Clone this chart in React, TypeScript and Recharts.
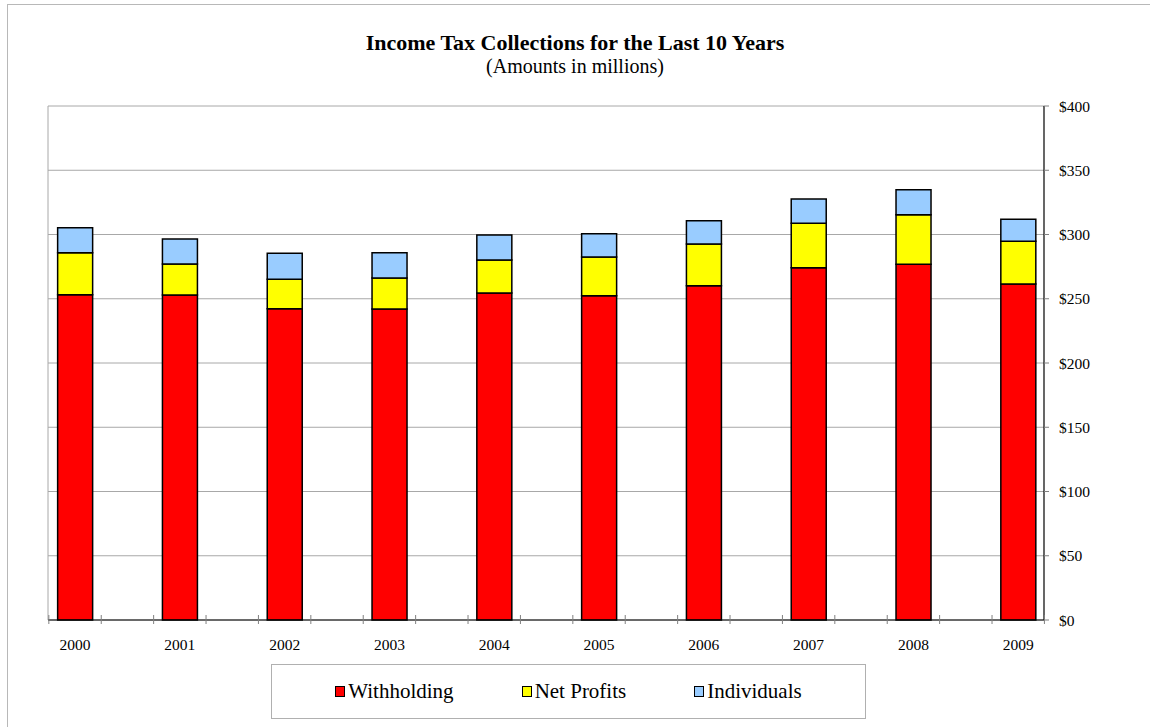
import { BarChart, Bar, XAxis, YAxis, CartesianGrid, ReferenceLine } from 'recharts';

const years = ['2000', '2001', '2002', '2003', '2004', '2005', '2006', '2007', '2008', '2009'];
const withholding = [253.2, 252.9, 242.3, 242.0, 254.5, 252.4, 260.2, 274.2, 276.8, 261.5];
const netProfits = [32.6, 24.1, 22.8, 24.1, 25.7, 30.1, 32.4, 34.5, 38.6, 33.2];
const individuals = [19.5, 19.5, 20.3, 19.7, 19.4, 18.1, 18.1, 18.9, 19.5, 17.1];
const yTicks = [0, 50, 100, 150, 200, 250, 300, 350, 400];

const series = [
  { key: 'withholding', name: 'Withholding', color: '#ff0000' },
  { key: 'netProfits', name: 'Net Profits', color: '#ffff00' },
  { key: 'individuals', name: 'Individuals', color: '#99ccff' },
];

const FONT = '"Liberation Serif", "Times New Roman", serif';

// bars sit a bit off the band centres in the original, so use a numeric x axis
const xDomain = [-0.258, 9.246];
const xTicks: number[] = [];
for (let i = -0.25; i <= 9.25; i += 0.5) xTicks.push(i);
years.forEach((_, i) => xTicks.push(i));

const data = years.map((y, i) => ({
  idx: i,
  year: y,
  withholding: withholding[i],
  netProfits: netProfits[i],
  individuals: individuals[i],
}));

function XTick(props: any) {
  const { x, y, payload } = props;
  const v = payload.value;
  if (Number.isInteger(v)) {
    return (
      <text x={x} y={y + 30} textAnchor="middle" fontSize={15.5} fontFamily={FONT} fill="#000">
        {years[v]}
      </text>
    );
  }
  return <line x1={x} x2={x} y1={y - 5} y2={y + 4} stroke="#808080" strokeWidth={1} />;
}

export default function App() {
  return (
    <div style={{ position: 'absolute', left: 0, top: 0, width: 1150, height: 727, background: '#fff', fontFamily: FONT, overflow: 'hidden' }}>
      <div style={{ position: 'absolute', left: 7, top: 4, width: 1150, height: 727, borderTop: '1px solid #b8b8b8', borderLeft: '1px solid #b8b8b8' }} />
      <div style={{ position: 'absolute', left: 0, width: 1150, top: 30, textAlign: 'center', fontSize: 22, fontWeight: 'bold', color: '#000' }}>
        Income Tax Collections for the Last 10 Years
      </div>
      <div style={{ position: 'absolute', left: 0, width: 1150, top: 55, textAlign: 'center', fontSize: 20, color: '#000' }}>
        (Amounts in millions)
      </div>
      <div style={{ position: 'absolute', left: 0, top: 0 }}>
        <BarChart width={1150} height={727} data={data} margin={{ top: 106, right: 0, left: 48, bottom: 67 }}>
          <CartesianGrid horizontal vertical={false} stroke="#a8a8a8" />
          <ReferenceLine x={xDomain[0]} stroke="#a8a8a8" />
          <XAxis
            dataKey="idx"
            type="number"
            domain={xDomain}
            allowDataOverflow
            ticks={xTicks}
            interval={0}
            height={40}
            tickSize={0}
            tickMargin={0}
            tickLine={false}
            axisLine={{ stroke: '#000', strokeWidth: 1.2 }}
            tick={<XTick />}
          />
          <YAxis
            orientation="right"
            width={106}
            domain={[0, 400]}
            ticks={yTicks}
            interval={0}
            tickSize={5}
            tickMargin={10}
            tickLine={{ stroke: '#808080' }}
            axisLine={{ stroke: '#000', strokeWidth: 1.2 }}
            tickFormatter={(v: number) => `$${v}`}
            tick={{ fontSize: 15.5, fontFamily: FONT, fill: '#000' }}
          />
          {series.map((s) => (
            <Bar
              key={s.key}
              dataKey={s.key}
              name={s.name}
              stackId="a"
              fill={s.color}
              stroke="#000"
              strokeWidth={1.5}
              barSize={35}
              isAnimationActive={false}
            />
          ))}
        </BarChart>
      </div>
      <div
        style={{
          position: 'absolute',
          left: 271,
          top: 664,
          width: 595,
          height: 55,
          boxSizing: 'border-box',
          border: '1px solid #b0b0b0',
          display: 'flex',
          alignItems: 'center',
          justifyContent: 'center',
          gap: 68,
        }}
      >
        {series.map((s) => (
          <div key={s.key} style={{ display: 'flex', alignItems: 'center', fontSize: 21, color: '#000' }}>
            <span style={{ display: 'inline-block', width: 8, height: 9, background: s.color, border: '1.5px solid #000', marginRight: 3 }} />
            {s.name}
          </div>
        ))}
      </div>
    </div>
  );
}
